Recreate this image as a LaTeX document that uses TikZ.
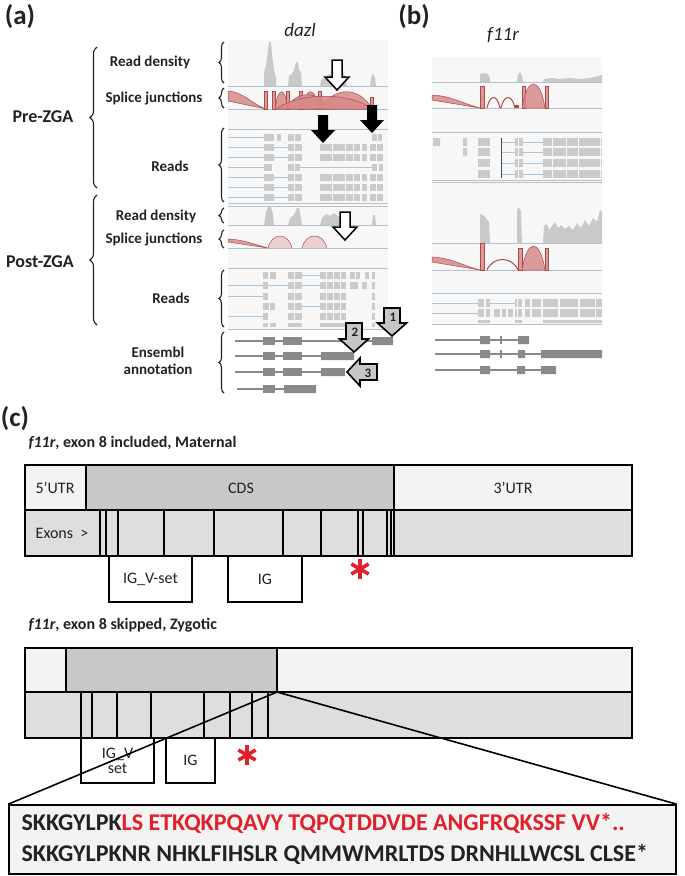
\documentclass[tikz,border=0pt]{standalone}
\usepackage{fontspec}
\setmainfont{Carlito}
\usetikzlibrary{decorations.pathreplacing}

\definecolor{inkgray}{HTML}{222222}
\definecolor{readgray}{HTML}{CBCBCB}
\definecolor{densgray}{HTML}{C9C9C9}
\definecolor{panelgray}{HTML}{F7F7F7}
\definecolor{trackline}{HTML}{B6C0CA}
\definecolor{bluelink}{HTML}{A8C6DE}
\definecolor{junction}{HTML}{D68A8A}
\definecolor{juncline}{HTML}{B04848}
\definecolor{annotgray}{HTML}{8A8A8A}
\definecolor{cdsgray}{HTML}{C8C8C8}
\definecolor{utrgray}{HTML}{F3F3F3}
\definecolor{exongray}{HTML}{DEDEDE}
\definecolor{seqred}{HTML}{E0202A}

\begin{document}
\begin{tikzpicture}[x=1pt,y=-1pt,
    lbl/.style={font=\bfseries\fontsize{15}{17}\selectfont,text=inkgray},
    big/.style={font=\bfseries\fontsize{18}{20}\selectfont,text=inkgray},
    panel/.style={font=\bfseries\fontsize{27}{29}\selectfont,text=inkgray},
    gene/.style={font=\itshape\fontsize{19}{21}\selectfont,text=inkgray},
    brc/.style={decorate,decoration={brace,amplitude=6pt},line width=1.1pt,draw=inkgray},
    tline/.style={draw=trackline,line width=0.8pt},
    link/.style={draw=bluelink,line width=0.6pt},
    rd/.style={fill=readgray},
    dens/.style={fill=densgray},
    junc/.style={fill=junction,draw=juncline,line width=0.5pt,fill opacity=0.85},
    hollow/.style={draw=black,fill=white,line width=1.5pt},
    grayarrow/.style={draw=black,fill=gray!45,line width=1.6pt},
    num/.style={font=\bfseries\fontsize{13}{13}\selectfont,text=inkgray},
    annot/.style={draw=annotgray,line width=1.2pt},
    exonbox/.style={fill=annotgray},
    box/.style={draw=black,line width=1.6pt},
    cell/.style={font=\fontsize{16}{18}\selectfont,text=inkgray},
    dom/.style={box,fill=white,font=\fontsize{16}{18}\selectfont,text=inkgray,align=center,inner sep=0pt},
    sub/.style={font=\bfseries\fontsize{16}{18}\selectfont,text=inkgray,anchor=west},
    seqtxt/.style={font=\bfseries\fontsize{24}{26}\selectfont,text=inkgray,anchor=west},
    stopmark/.style={draw=seqred,line width=3.6pt}
  ]
  \useasboundingbox (0,0) rectangle (685,876);

  % panel letters and gene names
  \node[panel] (pa) at (20,17) {(a)};
  \node[panel] (pb) at (414,17) {(b)};
  \node[panel] (pc) at (15,419) {(c)};
  \node[gene] (dazl) at (300,30) {dazl};
  \node[gene] (f11r) at (503,35) {f11r};

  % (a) labels and braces
  \node[big] (pre) at (43,117) {Pre-ZGA};
  \node[big] (post) at (40,262) {Post-ZGA};
  \draw[brc,decoration={amplitude=7pt}] (97,188) -- (97,47);
  \draw[brc,decoration={amplitude=7pt}] (97,325) -- (97,195);
  \node[lbl] (rd1) at (150,62) {Read density};
  \node[lbl] (sj1) at (154,98) {Splice junctions};
  \node[lbl] (rs1) at (170,166) {Reads};
  \node[lbl] (rd2) at (156,216) {Read density};
  \node[lbl] (sj2) at (154,239) {Splice junctions};
  \node[lbl] (rs2) at (171,298) {Reads};
  \node[lbl,align=center] (ens) at (158,361) {Ensembl\\annotation};
  \foreach \ya/\yb in {83/42,108/88,202/128,223/208,248/230,327/270,393/332}
    \draw[brc,decoration={amplitude=5pt}] (224,\ya) -- (224,\yb);

  % dazl tracks
  \fill[panelgray] (228,40) rectangle (388,330);
  \fill[dens] (264,86) -- (264,72) -- (266,66) -- (268,50) -- (269,42) -- (271,42) -- (272,55) -- (273,62) -- (274,70) -- (276,78) -- (276,86) -- cycle;
  \fill[dens] (288,86) -- (289,76) -- (292,74) -- (294,70) -- (296,62) -- (298,62) -- (299,70) -- (301,72) -- (302,86) -- cycle;
  \fill[dens] (320,86) -- (321,80) -- (326,76) -- (330,74) -- (334,76) -- (338,72) -- (342,70) -- (345,76) -- (347,86) -- cycle;
  \fill[dens] (370,86) -- (371,78) -- (373,73) -- (375,78) -- (376,86) -- cycle;
  \draw[tline] (228,86) -- (388,86) (228,109) -- (388,109) (228,129) -- (388,129);
  \fill[junc] (228,91) to[out=-5,in=160] (266,109) -- (228,101) -- cycle;
  \foreach \a in {264,272,286,299,318}
    \fill[junc] (\a,91) rectangle (\a+3,109);
  \fill[junc] (370,97) rectangle (373,109);
  \fill[junc] (275,109) .. controls (278,86) and (285,86) .. (288,109) -- cycle;
  \fill[junc] (302,109) .. controls (306,86) and (315,86) .. (319,109) -- cycle;
  \fill[junc] (286,109) .. controls (296,90) and (318,90) .. (330,109) -- cycle;
  \fill[junc] (321,109) .. controls (333,86) and (360,86) .. (372,109) -- cycle;
  \fill[junc] (276,109) .. controls (300,92) and (350,92) .. (372,109) -- cycle;
  % pre reads
  \foreach \y in {147,157,177,187,197} {
    \draw[link] (228,\y) -- (264,\y) (274,\y) -- (288,\y);
    \foreach \a/\b in {264/274,288/294,295/302,320/332,333/345,346/353,354/360,362/367,370/376,377/383}
      \fill[rd] (\a,\y-3.5) rectangle (\b,\y+3.5);
  }
  \draw[link] (228,137) -- (264,137) (228,167) -- (264,167) (300,167) -- (372,167);
  \foreach \a/\b in {264/274,277/281,288/294,295/301,372/377,378/382}
    \fill[rd] (\a,133.5) rectangle (\b,140.5);
  \foreach \a/\b in {264/272,288/294,295/300,372/377,379/383}
    \fill[rd] (\a,163.5) rectangle (\b,170.5);
  \draw[tline] (228,203) -- (388,203) (228,206) -- (388,206);
  % post density and junctions
  \fill[dens] (264,225) -- (266,212) -- (268,207) -- (271,207) -- (273,214) -- (274,225) -- cycle;
  \fill[dens] (288,225) -- (290,218) -- (294,215) -- (297,208) -- (299,208) -- (301,218) -- (302,225) -- cycle;
  \fill[dens] (320,225) -- (322,218) -- (326,214) -- (330,216) -- (334,213) -- (338,216) -- (342,220) -- (345,225) -- cycle;
  \fill[dens] (372,225) -- (373,215) -- (375,215) -- (376,225) -- cycle;
  \draw[tline] (228,225) -- (388,225) (228,248) -- (388,248) (228,268) -- (388,268);
  \fill[junc] (228,239) to[out=-3,in=165] (268,248) -- (228,242) -- cycle;
  \draw[junc,fill opacity=0.35] (268,248) .. controls (272,232) and (288,232) .. (292,248)
    (302,248) .. controls (306,232) and (323,232) .. (327,248);
  % post reads
  \foreach \y in {275,285,296,306,316} {
    \foreach \a/\b in {288/294,295/302,320/326,327/333,334/340,341/346,372/375}
      \fill[rd] (\a,\y-3.5) rectangle (\b,\y+3.5);
  }
  \foreach \a/\b/\y in {263/268/275,270/276/275,350/355/275,356/360/275,365/369/275,
      263/268/285,350/358/285,362/367/285,263/268/296,263/269/306,270/275/306,263/268/316}
    \fill[rd] (\a,\y-3.5) rectangle (\b,\y+3.5);
  \draw[link] (302,275) -- (320,275) (228,285) -- (263,285) (268,285) -- (288,285) (302,285) -- (320,285)
    (228,296) -- (263,296) (302,306) -- (320,306) (228,316) -- (263,316);
  \foreach \a/\b in {263/268,270/276,288/302,320/346,372/375}
    \fill[rd] (\a,323) rectangle (\b,327);
  \draw[tline] (228,329) -- (388,329);
  % ensembl
  \draw[annot] (235,341) -- (372,341) (235,356) -- (354,356) (235,372) -- (345,372) (237,389) -- (284,389);
  \foreach \y in {341,356,372,389}
    \fill[exonbox] (263,\y-4) rectangle (275,\y+4);
  \foreach \y in {341,356,372}
    \fill[exonbox] (283,\y-4) rectangle (302,\y+4);
  \fill[exonbox] (372,337) rectangle (393,345) (321,352) rectangle (354,360)
    (321,368) rectangle (345,376) (284,385) rectangle (316,393);

  % open and black arrows
  \foreach \x/\ya/\yb in {337/60/90,345/212/240,501/67/97,503/227/255}
    \draw[hollow] (\x-5,\ya) -- (\x+5,\ya) -- (\x+5,\yb-13) -- (\x+12,\yb-13) -- (\x,\yb)
      -- (\x-12,\yb-13) -- (\x-5,\yb-13) -- cycle;
  \foreach \x/\ya/\yb in {323/115/143,372/105/133}
    \fill[black] (\x-5,\ya) -- (\x+5,\ya) -- (\x+5,\yb-13) -- (\x+12,\yb-13) -- (\x,\yb)
      -- (\x-12,\yb-13) -- (\x-5,\yb-13) -- cycle;
  % numbered arrows
  \foreach \x/\ya/\yb in {392/308/336,354/323/352}
    \draw[grayarrow] (\x-8,\ya) -- (\x+8,\ya) -- (\x+8,\yb-13) -- (\x+14.5,\yb-13) -- (\x,\yb)
      -- (\x-14.5,\yb-13) -- (\x-8,\yb-13) -- cycle;
  \draw[grayarrow] (377,364) -- (377,380) -- (360,380) -- (360,386) -- (347,372) -- (360,358) -- (360,364) -- cycle;
  \node[num] (n1) at (393,317) {1};
  \node[num] (n2) at (355,332) {2};
  \node[num] (n3) at (368,373) {3};

  % f11r tracks
  \fill[panelgray] (432,57) rectangle (602,325);
  \fill[dens] (480,82) -- (480,74) -- (484,73) -- (488,74) -- (490,78) -- (490,82) -- cycle;
  \fill[dens] (517,82) -- (518,75) -- (520,72) -- (522,76) -- (523,82) -- cycle;
  \fill[dens] (543,82) -- (544,79) -- (552,78) -- (560,79) -- (570,78) -- (580,79) -- (590,78) -- (598,76) -- (602,75) -- (602,82) -- cycle;
  \draw[tline] (432,82) -- (602,82) (432,108) -- (602,108) (432,132) -- (602,132);
  \fill[junc] (432,95) to[out=-3,in=165] (480,108) -- (432,100) -- cycle;
  \fill[junc] (480,86) rectangle (484,108) (522,86) rectangle (525,108) (545,86) rectangle (548,108);
  \draw[juncline,line width=1pt] (487,108) .. controls (490,94) and (497,94) .. (500,108)
    (501,108) .. controls (504,94) and (512,94) .. (515,108);
  \fill[junc] (522,108) .. controls (527,76) and (540,76) .. (545,108) -- cycle;
  \fill[juncline] (515,105) rectangle (519,108);
  \foreach \y in {142,152,163,174} {
    \draw[link] (502,\y) -- (515,\y) (523,\y) -- (543,\y);
    \foreach \a/\b in {478/490,515/518,519/523,543/552,553/566,567/578,579/600,601/602}
      \fill[rd] (\a,\y-4) rectangle (\b,\y+4);
  }
  \fill[rd] (433,138) rectangle (440,146) (463,138) rectangle (467,146) (463,148) rectangle (467,156);
  \draw[black!70,line width=0.8pt] (501,138) -- (501,178);
  \draw[tline] (432,180) -- (602,180) (432,182) -- (602,182);
  \fill[dens] (480,243) -- (480,214) -- (483,215) -- (486,218) -- (489,222) -- (490,243) -- cycle;
  \fill[dens] (517,243) -- (517,210) -- (519,207) -- (521,212) -- (522,243) -- cycle;
  \fill[dens] (543,243) -- (544,226) -- (547,224) -- (549,230) -- (552,226) -- (555,222) -- (558,228) -- (561,225)
    -- (565,229) -- (569,226) -- (573,230) -- (577,223) -- (581,228) -- (585,220) -- (589,226) -- (593,218)
    -- (597,222) -- (600,210) -- (602,212) -- (602,243) -- cycle;
  \draw[tline] (432,243) -- (602,243) (432,270) -- (602,270) (432,293) -- (602,293);
  \fill[junc] (432,257) to[out=-3,in=165] (480,270) -- (432,262) -- cycle;
  \fill[junc] (480,243) rectangle (484,270) (518,248) rectangle (522,270) (545,248) rectangle (548,270);
  \draw[juncline,line width=1pt] (487,270) .. controls (493,256) and (512,256) .. (518,270);
  \fill[junc] (522,270) .. controls (527,238) and (540,238) .. (545,270) -- cycle;
  \foreach \y in {303,313} {
    \draw[link] (432,\y) -- (478,\y);
    \foreach \a/\b in {478/484,486/490,515/517,518/522,525/530,532/541,543/558,560/578,580/595,596/602}
      \fill[rd] (\a,\y-4) rectangle (\b,\y+4);
  }
  \draw[link] (490,303) -- (515,303);
  \foreach \a/\b in {494/500,502/506,508/513}
    \fill[rd] (\a,309) rectangle (\b,317);
  \foreach \a/\b in {478/490,515/522,543/602}
    \fill[rd] (\a,320) rectangle (\b,323);
  \draw[tline] (432,324) -- (602,324);
  \draw[annot] (435,340) -- (529,340) (435,354) -- (541,354) (435,370) -- (541,370)
    (501,336) -- (501,344) (501,350) -- (501,358);
  \fill[exonbox] (480,336) rectangle (490,344) (518,336) rectangle (529,344)
    (480,350) rectangle (490,358) (518,350) rectangle (525,358) (541,350) rectangle (602,358)
    (480,366) rectangle (490,374) (517,366) rectangle (525,374) (541,366) rectangle (556,374);

  % (c) maternal transcript
  \node[sub] (mat) at (25,443) {\textit{f11r}, exon 8 included, Maternal};
  \draw[box,fill=utrgray] (25,465) rectangle (86,510);
  \draw[box,fill=cdsgray] (86,465) rectangle (394,510);
  \draw[box,fill=utrgray] (394,465) rectangle (632,510);
  \draw[box,fill=exongray] (25,510) rectangle (632,556);
  \foreach \x in {100,106,214,283,321,358,363,387,391,394}
    \draw[box] (\x,510) -- (\x,556);
  \foreach \x in {118,164}
    \draw[box,line width=2.8pt] (\x,510) -- (\x,556);
  \node[cell] (utr5) at (55,488) {5’UTR};
  \node[cell] (cds) at (241,488) {CDS};
  \node[cell] (utr3) at (513,488) {3’UTR};
  \node[cell] (exons) at (62,533) {Exons\ \ >};
  \node[dom,minimum width=83pt,minimum height=46pt] (igv1) at (150.5,579) {IG\_V-set};
  \node[dom,minimum width=74pt,minimum height=46pt] (ig1) at (265,579) {IG};

  % (c) zygotic transcript
  \node[sub] (zyg) at (25,625) {\textit{f11r}, exon 8 skipped, Zygotic};
  \draw[box,fill=utrgray] (25,648) rectangle (66,692);
  \draw[box,fill=cdsgray] (66,648) rectangle (277,692);
  \draw[box,fill=utrgray] (277,648) rectangle (632,692);
  \draw[box,fill=exongray] (25,692) rectangle (632,738);
  \foreach \x in {81,92,117,151,204,230,252,268}
    \draw[box] (\x,692) -- (\x,738);
  \node[dom,minimum width=73pt,minimum height=45pt] (igv2) at (117.5,760.5) {IG\_V\\[-3pt]set};
  \node[dom,minimum width=49pt,minimum height=45pt] (ig2) at (190.5,760.5) {IG};

  % stop codons
  \foreach \cx/\cy in {360/569,247/755}
    \foreach \a in {90,30,-30}
      \draw[stopmark] (\cx,\cy) ++(\a:-10) -- ++(\a:20);

  % zoomed sequence
  \coordinate (cdsend) at (277,692);
  \node[box,fill=utrgray,minimum width=667pt,minimum height=69pt,inner sep=0pt] (seq) at (342.5,839.5) {};
  \draw[box] (cdsend) -- (seq.north west) (cdsend) -- (seq.north east);
  \node[seqtxt] (seq1) at (18,823) {SKKGYLPK\textcolor{seqred}{LS ETKQKPQAVY TQPQTDDVDE ANGFRQKSSF VV*..}};
  \node[seqtxt] (seq2) at (18,854) {SKKGYLPKNR NHKLFIHSLR QMMWMRLTDS DRNHLLWCSL CLSE*};
\end{tikzpicture}
\end{document}
